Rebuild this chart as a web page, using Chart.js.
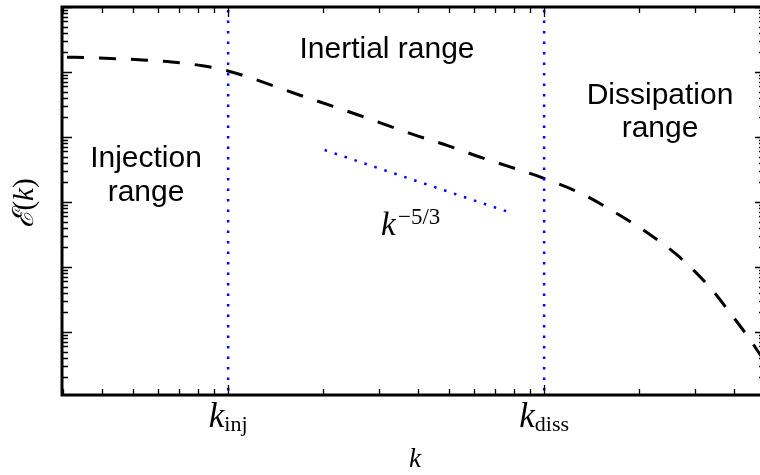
<!DOCTYPE html>
<html>
<head>
<meta charset="utf-8">
<script src="https://cdn.jsdelivr.net/npm/chart.js@4.4.1/dist/chart.umd.min.js"></script>
<style>
  html, body { margin: 0; padding: 0; background: #fff; overflow: hidden; }
  #wrap { width: 800px; height: 475px; }
</style>
</head>
<body>
<div id="wrap"><canvas id="spectrum"></canvas></div>
<script>
// values (k_inj = 10, k_diss = 100, top of axis = 1)
var kValues = [2.98, 3.92, 5.24, 6.62, 8.30, 10, 16.8, 26.1, 39.7, 49.8, 61.9, 77.1, 96.6, 132, 173, 215, 268, 336, 388, 447, 500];
var energyValues = [0.170, 0.164, 0.154, 0.1425, 0.1245, 0.1036, 0.0443, 0.0214, 0.01043, 0.00732, 0.00501, 0.00354, 0.00245, 0.001327, 6.31e-4, 3.22e-4, 1.43e-4, 4.75e-5, 1.96e-5, 7.8e-6, 3.45e-6];

// the k^-5/3 guide
var slopeK = [20.2, 76];
var slopeE = [6.3e-3, 7.2e-4];

var kInj = 10;
var kDiss = 100;
var kRange = [2.98, 500];
var eRange = [1.074e-6, 1];

var tickValues = [kInj, kDiss];
var tickLabels = [['k', 'inj'], ['k', 'diss']];

function pts(xs, ys) {
  return xs.map(function(x, i) { return {x: x, y: ys[i]}; });
}

var blueDots = {
  borderColor: '#0000ff',
  borderWidth: 2.5,
  borderDash: [2.5, 8],
  pointRadius: 0,
  showLine: true,
  fill: false
};

var SERIF = '"Liberation Serif", "DejaVu Serif", serif';
var SANS = '"Liberation Sans", Arial, sans-serif';

// draws a list of [text, font, dy] pieces side by side, centred on x
function drawPieces(ctx, x, y, pieces) {
  var w = 0;
  pieces.forEach(function(p) { ctx.font = p[1]; w += ctx.measureText(p[0]).width; });
  var cx = x - w / 2;
  pieces.forEach(function(p) {
    ctx.font = p[1];
    ctx.fillText(p[0], cx, y + (p[2] || 0));
    cx += ctx.measureText(p[0]).width;
  });
}

// 1..9 x 10^n positions, like matplotlib's log locator with minor ticks
function logTicks(scale) {
  var out = [];
  var lo = Math.floor(Math.log10(scale.min)), hi = Math.ceil(Math.log10(scale.max));
  for (var e = lo; e <= hi; e++) {
    for (var m = 1; m < 10; m++) {
      var v = m * Math.pow(10, e);
      if (v < scale.min * 0.9999 || v > scale.max * 1.0001) continue;
      out.push({p: Math.round(scale.getPixelForValue(v)) + 0.5, major: m === 1});
    }
  }
  return out;
}

var framePlugin = {
  id: 'frame',
  afterDraw: function(chart) {
    var ctx = chart.ctx, a = chart.chartArea;
    var xs = chart.scales.x, ys = chart.scales.y;
    ctx.save();
    ctx.strokeStyle = '#000';
    ctx.lineWidth = 1.3;
    logTicks(xs).forEach(function(t) {
      var len = t.major ? 10 : 6;
      ctx.beginPath();
      ctx.moveTo(t.p, a.bottom); ctx.lineTo(t.p, a.bottom - len);
      ctx.moveTo(t.p, a.top); ctx.lineTo(t.p, a.top + len);
      ctx.stroke();
    });
    logTicks(ys).forEach(function(t) {
      var len = t.major ? 10 : 6;
      ctx.beginPath();
      ctx.moveTo(a.left, t.p); ctx.lineTo(a.left + len, t.p);
      ctx.moveTo(a.right, t.p); ctx.lineTo(a.right - len, t.p);
      ctx.stroke();
    });
    ctx.lineWidth = 3;
    ctx.strokeRect(a.left, a.top, a.right - a.left, a.bottom - a.top);

    ctx.fillStyle = '#000';
    ctx.textBaseline = 'alphabetic';
    ctx.textAlign = 'left';

    // region labels
    drawPieces(ctx, 387, 58, [['Inertial range', '30px ' + SANS]]);
    drawPieces(ctx, 146, 167, [['Injection', '30px ' + SANS]]);
    drawPieces(ctx, 146, 200.5, [['range', '30px ' + SANS]]);
    drawPieces(ctx, 660, 103.5, [['Dissipation', '30px ' + SANS]]);
    drawPieces(ctx, 660, 137, [['range', '30px ' + SANS]]);

    // k^-5/3
    ctx.font = 'italic 33px ' + SERIF;
    ctx.fillText('k', 381, 235);
    ctx.font = '23px ' + SERIF;
    ctx.fillText('\u22125/3', 398, 224);

    // tick labels
    tickValues.forEach(function(v, i) {
      var px = xs.getPixelForValue(v);
      drawPieces(ctx, px, 426.5, [
        [tickLabels[i][0], 'italic 35px ' + SERIF, 0],
        [tickLabels[i][1], '22px ' + SERIF, 4]
      ]);
    });

    // axis titles
    drawPieces(ctx, 415, 467, [['k', 'italic 27px ' + SERIF]]);
    ctx.translate(33, 203);
    ctx.rotate(-Math.PI / 2);
    drawPieces(ctx, 0, 0, [['\u2130', 'italic 29px ' + SERIF], ['(', '29px ' + SERIF], ['k', 'italic 29px ' + SERIF], [')', '29px ' + SERIF]]);
    ctx.restore();
  }
};

var ctx = document.getElementById('spectrum').getContext('2d');

var spectrum = new Chart(ctx, {
  type: 'scatter',
  data: {
    datasets: [
      Object.assign({}, blueDots, { data: pts([kInj, kInj], [eRange[1], eRange[0]]), borderDashOffset: 7.5 }),
      Object.assign({}, blueDots, { data: pts([kDiss, kDiss], [eRange[1], eRange[0]]), borderDashOffset: 7.5 }),
      Object.assign({}, blueDots, { data: pts(slopeK, slopeE) }),
      {
        data: pts(kValues, energyValues),
        borderColor: '#000',
        borderWidth: 3,
        borderDash: [17, 15],
        borderDashOffset: 27,
        cubicInterpolationMode: 'monotone',
        pointRadius: 0,
        showLine: true,
        fill: false
      }
    ]
  },
  options: {
    responsive: true,
    maintainAspectRatio: false,
    animation: false,
    layout: { padding: { left: 62, top: 7, right: 35, bottom: 80 } },
    plugins: { legend: { display: false }, tooltip: { enabled: false } },
    scales: {
      x: {
        type: 'logarithmic',
        min: kRange[0],
        max: kRange[1],
        ticks: { display: false },
        grid: { display: false },
        border: { display: false },
        afterFit: function(s) { s.height = 0; }
      },
      y: {
        type: 'logarithmic',
        min: eRange[0],
        max: eRange[1],
        ticks: { display: false },
        grid: { display: false },
        border: { display: false },
        afterFit: function(s) { s.width = 0; }
      }
    }
  },
  plugins: [framePlugin]
});
</script>
</body>
</html>
